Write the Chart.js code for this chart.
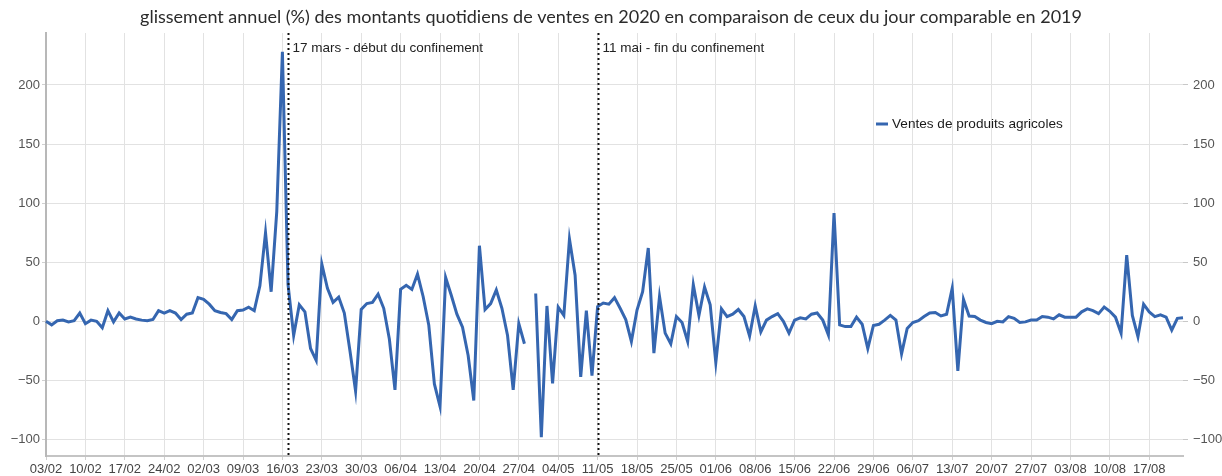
<!DOCTYPE html>
<html>
<head>
<meta charset="utf-8">
<script src="https://cdn.jsdelivr.net/npm/chart.js@4.4.0/dist/chart.umd.min.js"></script>
<style>
  html, body { margin: 0; padding: 0; background: #ffffff; }
  #wrap { width: 1222px; height: 476px; position: relative; }
</style>
</head>
<body>
<div id="wrap"><canvas id="c" width="1222" height="476"></canvas></div>
<script>
const subtitleText = "glissement annuel (%) des montants quotidiens de ventes en 2020 en comparaison de ceux du jour comparable en 2019";
const seriesName = "Ventes de produits agricoles";

const categories = [
  "03/02","04/02","05/02","06/02","07/02","08/02","09/02","10/02","11/02","12/02","13/02","14/02","15/02","16/02",
  "17/02","18/02","19/02","20/02","21/02","22/02","23/02","24/02","25/02","26/02","27/02","28/02","29/02",
  "01/03","02/03","03/03","04/03","05/03","06/03","07/03","08/03","09/03","10/03","11/03","12/03","13/03","14/03","15/03",
  "16/03","17/03","18/03","19/03","20/03","21/03","22/03","23/03","24/03","25/03","26/03","27/03","28/03","29/03",
  "30/03","31/03","01/04","02/04","03/04","04/04","05/04","06/04","07/04","08/04","09/04","10/04","11/04","12/04",
  "13/04","14/04","15/04","16/04","17/04","18/04","19/04","20/04","21/04","22/04","23/04","24/04","25/04","26/04",
  "27/04","28/04","29/04","30/04","01/05","02/05","03/05","04/05","05/05","06/05","07/05","08/05","09/05","10/05",
  "11/05","12/05","13/05","14/05","15/05","16/05","17/05","18/05","19/05","20/05","21/05","22/05","23/05","24/05",
  "25/05","26/05","27/05","28/05","29/05","30/05","31/05","01/06","02/06","03/06","04/06","05/06","06/06","07/06",
  "08/06","09/06","10/06","11/06","12/06","13/06","14/06","15/06","16/06","17/06","18/06","19/06","20/06","21/06",
  "22/06","23/06","24/06","25/06","26/06","27/06","28/06","29/06","30/06","01/07","02/07","03/07","04/07","05/07",
  "06/07","07/07","08/07","09/07","10/07","11/07","12/07","13/07","14/07","15/07","16/07","17/07","18/07","19/07",
  "20/07","21/07","22/07","23/07","24/07","25/07","26/07","27/07","28/07","29/07","30/07","31/07","01/08","02/08",
  "03/08","04/08","05/08","06/08","07/08","08/08","09/08","10/08","11/08","12/08","13/08","14/08","15/08","16/08",
  "17/08","18/08","19/08","20/08","21/08","22/08","23/08"
];

const agriSales = [
  0, -3, 0.5, 1, -0.5, 0.5, 7, -2, 1, 0, -5.5, 9, -0.5, 7,
  2, 3.5, 2, 1, 0.5, 1.5, 9, 7, 9, 7, 1.5, 6, 7,
  20, 18.5, 14.5, 9, 7.5, 6.5, 1.5, 9, 9.5, 12, 9, 30, 75, 25,
  93, 228, 31, -12, 14, 8, -23, -33, 48.5, 28, 16, 20.5, 7, -25,
  -59, 10, 15, 16, 23, 11, -15, -58, 27, 30.5, 27, 40, 21, -3,
  -53, -72, 37, 22, 6, -5, -29, -67, 64, 10, 15, 26.5, 11, -12,
  -58, -2, -19, null, 23.5, -98, 13, -52.5, 12, 5, 69.5, 39, -47, 9,
  -46, 12.5, 15.5, 14.5, 20, 11, 1.5, -17, 9.5, 25, 62, -27, 21, -10,
  -19, 4, -1, -17, 31, 5, 29, 14, -35, 10.5, 4, 6, 10, 4,
  -12.5, 13, -9, 1, 4, 6.5, 0, -10, 1, 3, 2, 6, 7, 1,
  -11.5, 91.5, -3, -4.5, -4.5, 3.5, -2.5, -23, -3.5, -2.5, 1, 5, 1, -27.5,
  -6, -1, 0.5, 4, 7, 7.5, 4.5, 6, 28, -42, 18.5, 4.5, 4, 1,
  -1, -2, 0, -0.5, 4, 2.5, -1, -0.5, 1, 1, 4, 3.5, 2, 5.5,
  3.5, 3.5, 3.5, 8, 10.5, 9, 6.5, 12, 8.5, 3.5, -10, 56, 5, -13,
  14.5, 8, 4, 5.5, 3.5, -7.5, 2.5, 3
];

const yTickValues = [-100, -50, 0, 50, 100, 150, 200];
const weeklyTickEvery = 7;

const events = [
  { label: "17/03", text: "17 mars - début du confinement" },
  { label: "11/05", text: "11 mai - fin du confinement" }
];

const textFont = "'Liberation Sans', Arial, sans-serif";
const lineColor = "#3566b0";

const eventPlugin = {
  id: 'events',
  afterDatasetsDraw(chart) {
    const ctx = chart.ctx;
    const xs = chart.scales.x;
    const area = chart.chartArea;
    ctx.save();
    events.forEach(ev => {
      const idx = categories.indexOf(ev.label);
      const px = Math.round(xs.getPixelForValue(idx)) + 0.5;
      ctx.beginPath();
      ctx.setLineDash([2, 3]);
      ctx.lineWidth = 2;
      ctx.strokeStyle = '#111111';
      ctx.moveTo(px, area.top);
      ctx.lineTo(px, area.bottom);
      ctx.stroke();
      ctx.setLineDash([]);
      ctx.fillStyle = '#222222';
      ctx.font = "13.5px " + textFont;
      ctx.textAlign = 'left';
      ctx.textBaseline = 'middle';
      ctx.fillText(ev.text, px + 4, area.top + 15);
    });
    ctx.restore();
  }
};

const legendPlugin = {
  id: 'innerLegend',
  afterDraw(chart) {
    const ctx = chart.ctx;
    const ds = chart.data.datasets[0];
    const lx = 876, ly = 124;
    ctx.save();
    ctx.strokeStyle = ds.borderColor;
    ctx.lineWidth = 3;
    ctx.beginPath();
    ctx.moveTo(lx, ly);
    ctx.lineTo(lx + 12, ly);
    ctx.stroke();
    ctx.fillStyle = '#1a1a1a';
    ctx.font = "13.6px " + textFont;
    ctx.textAlign = 'left';
    ctx.textBaseline = 'middle';
    ctx.fillText(ds.label, lx + 16, ly);
    ctx.restore();
  }
};

new Chart(document.getElementById('c'), {
  type: 'line',
  data: {
    labels: categories,
    datasets: [{
      label: seriesName,
      data: agriSales,
      borderColor: lineColor,
      backgroundColor: lineColor,
      borderWidth: 3,
      pointRadius: 0,
      pointHoverRadius: 0,
      tension: 0,
      spanGaps: false,
      yAxisID: 'y'
    }]
  },
  options: {
    responsive: false,
    animation: false,
    devicePixelRatio: 1,
    layout: { padding: 0 },
    plugins: {
      legend: { display: false },
      tooltip: { enabled: false },
      title: {
        display: true,
        text: subtitleText,
        color: '#2b2b2b',
        font: { family: "Lato, 'Open Sans', sans-serif", size: 18, weight: 'normal', lineHeight: 1.0 },
        padding: { top: 8, bottom: 7 }
      }
    },
    scales: {
      x: {
        type: 'category',
        offset: false,
        afterFit(s) { s.height = 20; },
        afterBuildTicks(s) { s.ticks = s.ticks.filter(t => t.value % weeklyTickEvery === 0); },
        grid: { color: '#e2e2e2', lineWidth: 1, tickLength: 4, tickColor: '#cfcfcf' },
        border: { display: true, color: '#c4c4c4', width: 2 },
        ticks: {
          autoSkip: false, maxRotation: 0, minRotation: 0, padding: 2,
          color: '#444444', font: { family: textFont, size: 13 }
        }
      },
      y: {
        position: 'left',
        min: -114, max: 244,
        afterFit(s) { s.width = 46; },
        afterBuildTicks(s) { s.ticks = yTickValues.map(v => ({ value: v })); },
        grid: { color: '#e2e2e2', lineWidth: 1, tickLength: 4, tickColor: '#d0d0d0' },
        border: { display: true, color: '#b8b8b8', width: 2 },
        ticks: {
          padding: 2, color: '#555555', font: { family: textFont, size: 13 },
          callback: v => String(v).replace('-', '\u2212')
        }
      },
      y1: {
        position: 'right',
        min: -114, max: 244,
        afterFit(s) { s.width = 39; },
        afterBuildTicks(s) { s.ticks = yTickValues.map(v => ({ value: v })); },
        grid: { drawOnChartArea: false, tickLength: 5, tickColor: '#c8c8c8' },
        border: { display: false },
        ticks: {
          padding: 5, color: '#555555', font: { family: textFont, size: 13 },
          callback: v => String(v).replace('-', '\u2212')
        }
      }
    }
  },
  plugins: [eventPlugin, legendPlugin]
});
</script>
</body>
</html>
